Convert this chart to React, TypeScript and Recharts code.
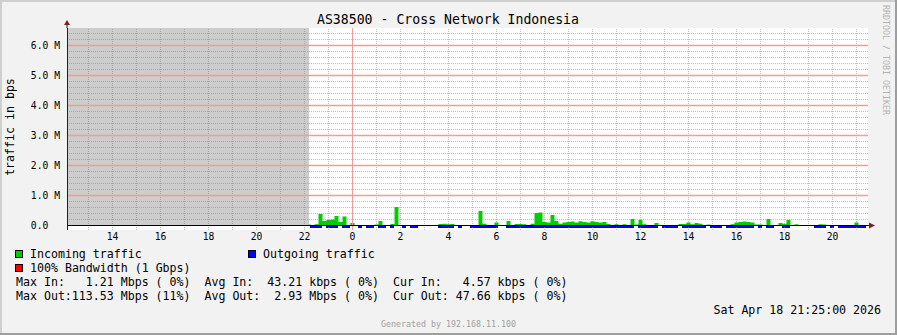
import React from 'react';
import {
  ComposedChart,
  Area,
  Bar,
  XAxis,
  YAxis,
  ReferenceLine,
  ReferenceArea,
  ReferenceDot,
} from 'recharts';

// ---------- data (values in millions of bits per second) ----------
const title = 'AS38500 - Cross Network Indonesia';
const yAxisTitle = 'traffic in bps';
const dataStartHour = 22 + 10 / 60; // first sample 22:10, one sample per 10 minutes
const stepHours = 10 / 60;
const unknownUntilHour = 22 + 12 / 60;
const viewStartHour = 12.1042;
const viewEndHour = 45.4792;
const yMin = -0.15;
const yMax = 6.583;
const yTicks = [0, 1, 2, 3, 4, 5, 6];
const xTicks = [14, 16, 18, 20, 22, 24, 26, 28, 30, 32, 34, 36, 38, 40, 42, 44];

// Incoming traffic (Mbps), 10-minute samples from 22:10
const incoming = [
  0.03, 0.02, 0.04, 0.38, 0.15, 0.18, 0.2, 0.32, 0.12, 0.3,
  0.02, 0.08, 0.02, 0, 0, 0.01, 0, 0.03, 0.15, 0.02,
  0, 0.05, 0.62, 0.02, 0, 0, 0, 0, 0, 0,
  0, 0, 0, 0.05, 0.06, 0.04, 0.05, 0.02, 0, 0.01,
  0, 0, 0.02, 0.48, 0.06, 0.02, 0, 0.1, 0.02, 0,
  0.15, 0.02, 0.05, 0.05, 0.04, 0.02, 0.06, 0.42, 0.43, 0.12,
  0.1, 0.35, 0.15, 0.06, 0.1, 0.12, 0.13, 0.1, 0.14, 0.12,
  0.1, 0.14, 0.12, 0.1, 0.12, 0.05, 0.02, 0.04, 0.02, 0.04,
  0.02, 0.22, 0.03, 0.18, 0.04, 0.02, 0.01, 0.08, 0.01, 0,
  0.02, 0.02, 0.01, 0.05, 0.05, 0.1, 0.04, 0.08, 0.06, 0.01,
  0.03, 0.01, 0, 0.01, 0, 0.02, 0.04, 0.1, 0.12, 0.13,
  0.12, 0.1, 0.03, 0.03, 0.01, 0.22, 0.02, 0, 0.08, 0.06,
  0.18, 0.02, 0.04, 0, 0, 0, 0.01, 0, 0.04, 0.03,
  0.02, 0, 0, 0, 0.01, 0, 0, 0.1, 0.02, 0.01,
];

// Outgoing traffic as drawn (thin band under the axis), null = no sample
const O = 0.1;
const _ = null;
const outgoing = [
  _, O, O, O, _, O, O, O, _, O,
  O, _, _, O, _, O, O, _, O, O,
  _, O, _, _, O, _, O, O, _, _,
  _, _, _, O, O, O, O, _, O, _,
  _, O, O, O, O, O, O, O, _, _,
  O, O, O, O, O, O, O, O, O, O,
  O, O, O, O, O, O, O, O, O, O,
  O, O, O, O, O, O, O, O, O, O,
  O, O, _, O, O, O, O, O, _, O,
  O, O, O, _, O, O, O, O, O, O,
  _, O, O, O, _, O, O, O, O, O,
  O, O, _, O, _, O, O, _, _, O,
  O, _, _, _, _, _, _, O, O, O,
  _, O, _, O, O, O, O, O, O, O,
];

const legendItems = [
  { label: 'Incoming traffic', color: '#00cc00' },
  { label: 'Outgoing traffic', color: '#0000ff' },
  { label: '100% Bandwidth (1 Gbps)', color: '#ff0000' },
];
const statLines = [
  'Max In:   1.21 Mbps ( 0%)  Avg In:  43.21 kbps ( 0%)  Cur In:   4.57 kbps ( 0%)',
  'Max Out:113.53 Mbps (11%)  Avg Out:  2.93 Mbps ( 0%)  Cur Out: 47.66 kbps ( 0%)',
];
const dateText = 'Sat Apr 18 21:25:00 2026';
const generatedText = 'Generated by 192.168.11.100';
const watermark = 'RRDTOOL / TOBI OETIKER';

// ---------- derived tables ----------
const rows = incoming.map((v, i) => ({
  t: dataStartHour + i * stepHours,
  inc: v,
  out: outgoing[i] == null ? null : -(outgoing[i] as number),
}));

const minorHours: number[] = [];
for (let h = 13; h <= 45; h++) if (h !== 24) minorHours.push(h);
const majorHours = [24];
const minorLevels: number[] = [];
for (let k = 1; k <= 32; k++) if (k % 5 !== 0) minorLevels.push(k / 5);
const majorLevels = [1, 2, 3, 4, 5, 6];

const FONT = '"DejaVu Sans Mono", monospace';
const GRID = 'rgba(128,128,128,0.5)';
const MGRID = '#ef9c9c';
const ARROW = '#801f1f';
const AXIS = '#1f1f1f';

const YTick = (p: any) => {
  const v = p.payload.value;
  const txt = v === 0 ? '0.0\u00a0\u00a0' : `${v.toFixed(1)} M`;
  return (
    <text x={p.x} y={p.y} dy="0.35em" textAnchor="end" fontFamily={FONT} fontSize={9.7} fill="#000">
      {txt}
    </text>
  );
};

const XTick = (p: any) => {
  const v = p.payload.value;
  return (
    <text x={p.x} y={p.y} dy={10} textAnchor="middle" fontFamily={FONT} fontSize={9.7} fill="#000">
      {String(v % 24)}
    </text>
  );
};

const TopArrow = (p: any) => {
  const { cx, cy } = p;
  return (
    <g>
      <line x1={cx} y1={cy - 4} x2={cx} y2={cy} stroke={AXIS} strokeWidth={1} />
      <polygon points={`${cx - 3},${cy - 3} ${cx + 3},${cy - 3} ${cx},${cy - 8}`} fill={ARROW} />
    </g>
  );
};

const RightArrow = (p: any) => {
  const { cx, cy } = p;
  return (
    <g>
      <line x1={cx} y1={cy} x2={cx + 2} y2={cy} stroke={AXIS} strokeWidth={1} />
      <polygon points={`${cx + 1},${cy - 3} ${cx + 1},${cy + 3} ${cx + 7},${cy}`} fill={ARROW} />
    </g>
  );
};

const textLine = (top: number): React.CSSProperties => ({
  position: 'absolute',
  top: top - 7,
  height: 14,
  lineHeight: '14px',
  fontSize: 11.6,
  fontFamily: FONT,
  whiteSpace: 'pre',
  color: '#000',
});

export default function App() {
  return (
    <div
      style={{
        position: 'relative',
        width: 897,
        height: 335,
        background: '#f2f2f2',
        overflow: 'hidden',
        fontFamily: FONT,
      }}
    >
      <style>{`body{margin:0}`}</style>
      <div style={{ position: 'absolute', left: 0, top: 0 }}>
        <ComposedChart
          width={897}
          height={335}
          data={rows}
          margin={{ top: 28, right: 29, bottom: 85, left: 7 }}
        >
          <XAxis
            dataKey="t"
            type="number"
            domain={[viewStartHour, viewEndHour]}
            ticks={xTicks}
            allowDataOverflow
            axisLine={false}
            tickLine={false}
            tickSize={0}
            tickMargin={0}
            height={20}
            tick={XTick}
            interval={0}
          />
          <YAxis
            type="number"
            domain={[yMin, yMax]}
            ticks={yTicks}
            allowDataOverflow
            width={60}
            axisLine={{ stroke: AXIS, shapeRendering: 'crispEdges' }}
            tickLine={false}
            tickSize={0}
            tickMargin={7}
            tick={YTick}
            interval={0}
          />
          <ReferenceArea
            x1={viewStartHour}
            x2={viewEndHour}
            y1={yMin}
            y2={yMax}
            fill="#ffffff"
            fillOpacity={1}
            stroke="none"
            ifOverflow="hidden"
          />
          <ReferenceArea
            x1={viewStartHour}
            x2={unknownUntilHour}
            y1={0}
            y2={yMax}
            fill="#cdcdcd"
            fillOpacity={1}
            stroke="none"
            ifOverflow="hidden"
            shapeRendering="crispEdges"
          />
          {minorHours.map((h) => (
            <ReferenceLine
              key={`vh${h}`}
              x={h}
              stroke={GRID}
              strokeDasharray="1 1"
              strokeWidth={1}
              shapeRendering="crispEdges"
            />
          ))}
          {minorLevels.map((l) => (
            <ReferenceLine
              key={`hl${l}`}
              y={l}
              stroke={GRID}
              strokeDasharray="1 1"
              strokeWidth={1}
              shapeRendering="crispEdges"
            />
          ))}
          {majorHours.map((h) => (
            <ReferenceLine key={`vm${h}`} x={h} stroke={MGRID} strokeWidth={1} shapeRendering="crispEdges" />
          ))}
          {majorLevels.map((l) => (
            <ReferenceLine key={`hm${l}`} y={l} stroke={MGRID} strokeWidth={1.3} />
          ))}
          <Bar dataKey="out" fill="#0000ff" barSize={4} isAnimationActive={false} shapeRendering="crispEdges" />
          <Area
            dataKey="inc"
            type="step"
            fill="#00cc00"
            fillOpacity={1}
            stroke="none"
            baseValue={0}
            isAnimationActive={false}
            dot={false}
            activeDot={false}
          />
          <ReferenceLine y={0} stroke="#000000" strokeWidth={1} shapeRendering="crispEdges" />
          <ReferenceDot x={viewStartHour} y={yMax} ifOverflow="visible" shape={TopArrow} />
          <ReferenceDot x={viewEndHour} y={0} ifOverflow="visible" shape={RightArrow} />
        </ComposedChart>
      </div>

      {/* frame */}
      <div style={{ position: 'absolute', left: 0, top: 0, width: 897, height: 2, background: '#cfcfcf' }} />
      <div style={{ position: 'absolute', left: 0, top: 0, width: 2, height: 335, background: '#cfcfcf' }} />
      <div style={{ position: 'absolute', right: 0, top: 0, width: 2, height: 335, background: '#9e9e9e' }} />
      <div style={{ position: 'absolute', left: 0, bottom: 0, width: 897, height: 2, background: '#9e9e9e' }} />

      {/* title */}
      <div
        style={{
          position: 'absolute',
          left: 0,
          width: 896,
          top: 13,
          lineHeight: '14px',
          textAlign: 'center',
          fontSize: 13.2,
          fontFamily: FONT,
          whiteSpace: 'pre',
        }}
      >
        {title}
      </div>

      {/* y axis title */}
      <div
        style={{
          position: 'absolute',
          left: 10,
          top: 127,
          transform: 'translate(-50%, -50%) rotate(-90deg)',
          fontSize: 11.6,
          fontFamily: FONT,
          whiteSpace: 'pre',
          lineHeight: '14px',
        }}
      >
        {yAxisTitle}
      </div>

      {/* watermark */}
      <div
        style={{
          position: 'absolute',
          left: 886,
          top: 60,
          transform: 'translate(-50%, -50%) rotate(90deg)',
          fontSize: 8.3,
          fontFamily: FONT,
          whiteSpace: 'pre',
          color: '#b4b4b4',
          lineHeight: '10px',
        }}
      >
        {watermark}
      </div>

      {/* legend */}
      {legendItems.map((it, i) => {
        const left = i === 1 ? 248 : 15;
        const cy = i === 2 ? 268 : 254;
        return (
          <React.Fragment key={it.label}>
            <div
              style={{
                position: 'absolute',
                left,
                top: cy - 4,
                width: 8,
                height: 8,
                boxSizing: 'border-box',
                border: '1px solid #000',
                background: it.color,
              }}
            />
            <div style={{ ...textLine(cy), left: left + 15 }}>{it.label}</div>
          </React.Fragment>
        );
      })}

      {statLines.map((s, i) => (
        <div key={i} style={{ ...textLine(282 + i * 14), left: 16 }}>
          {s}
        </div>
      ))}

      <div style={{ ...textLine(310), right: 16 }}>{dateText}</div>

      <div
        style={{
          position: 'absolute',
          left: 0,
          width: 897,
          top: 319,
          lineHeight: '10px',
          textAlign: 'center',
          fontSize: 8.3,
          fontFamily: FONT,
          color: '#a0a0a0',
          whiteSpace: 'pre',
        }}
      >
        {generatedText}
      </div>
    </div>
  );
}
